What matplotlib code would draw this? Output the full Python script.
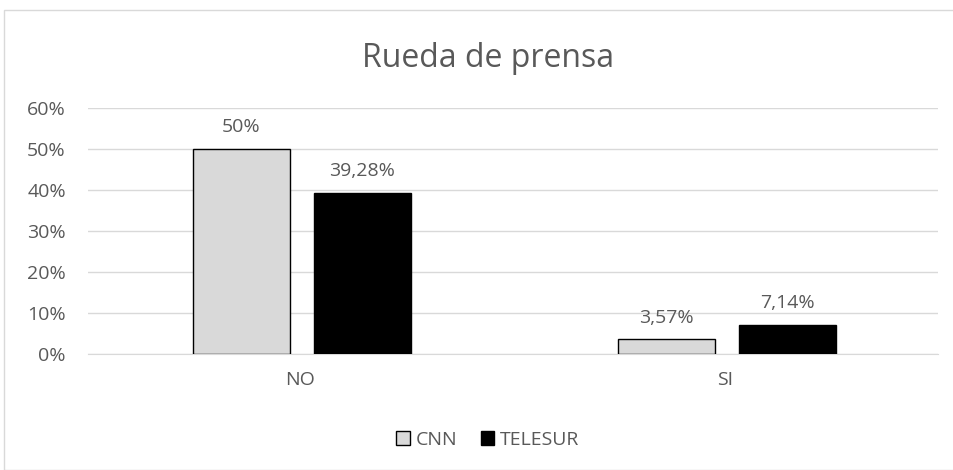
import numpy as np
import matplotlib.pyplot as plt
from matplotlib.patches import Rectangle

categories = ["NO", "SI"]
cnn = [50.0, 3.57]
telesur = [39.28, 7.14]
cnn_labels = ["50%", "3,57%"]
telesur_labels = ["39,28%", "7,14%"]
yticks = [0, 10, 20, 30, 40, 50, 60]

plt.rcParams['font.family'] = ['Open Sans', 'DejaVu Sans']
text_color = "#595959"

fig = plt.figure(figsize=(9.54, 4.70), dpi=100)
# outer chart border
fig.patches.append(Rectangle((4 / 954, 0), 1.0, 1 - 10 / 470, transform=fig.transFigure,
                             fill=False, edgecolor="#d9d9d9", linewidth=1))

ax = fig.add_axes([88 / 954, 1 - 354 / 470, 850 / 954, 246 / 470])
x = np.arange(len(categories))
width = 0.228
b1 = ax.bar(x - 0.139, cnn, width, color="#d9d9d9", edgecolor="black", linewidth=1, label="CNN", zorder=3)
b2 = ax.bar(x + 0.145, telesur, width, color="black", edgecolor="black", linewidth=1, label="TELESUR", zorder=3)

for bars, labels in [(b1, cnn_labels), (b2, telesur_labels)]:
    for rect, lab in zip(bars, labels):
        ax.annotate(lab, (rect.get_x() + rect.get_width() / 2, rect.get_height()),
                    xytext=(0, 12), textcoords="offset points", ha="center", va="baseline",
                    fontsize=14, color=text_color)

ax.set_xlim(-0.5, 1.5)
ax.set_ylim(0, 60)
ax.set_yticks(yticks)
ax.set_yticklabels([f"{t}%" for t in yticks], fontsize=14, color=text_color)
ax.set_xticks(x)
ax.set_xticklabels(categories, fontsize=14, color=text_color)
ax.tick_params(axis="x", length=0, pad=12)
ax.tick_params(axis="y", length=0, pad=16)
ax.yaxis.grid(True, color="#d9d9d9", linewidth=1, zorder=0)
for side in ["top", "right", "left"]:
    ax.spines[side].set_visible(False)
ax.spines["bottom"].set_color("#d9d9d9")

fig.text(488 / 954, 1 - 67 / 470, "Rueda de prensa", ha="center", va="baseline",
         fontsize=23, color=text_color)

ax.legend(loc="center", bbox_to_anchor=(488 / 954, 1 - 440 / 470), bbox_transform=fig.transFigure,
          ncol=2, frameon=False, fontsize=14, labelcolor=text_color,
          handlelength=0.7, handleheight=0.7, handletextpad=0.3, columnspacing=1.2)

fig.savefig("out.png", dpi=100)
